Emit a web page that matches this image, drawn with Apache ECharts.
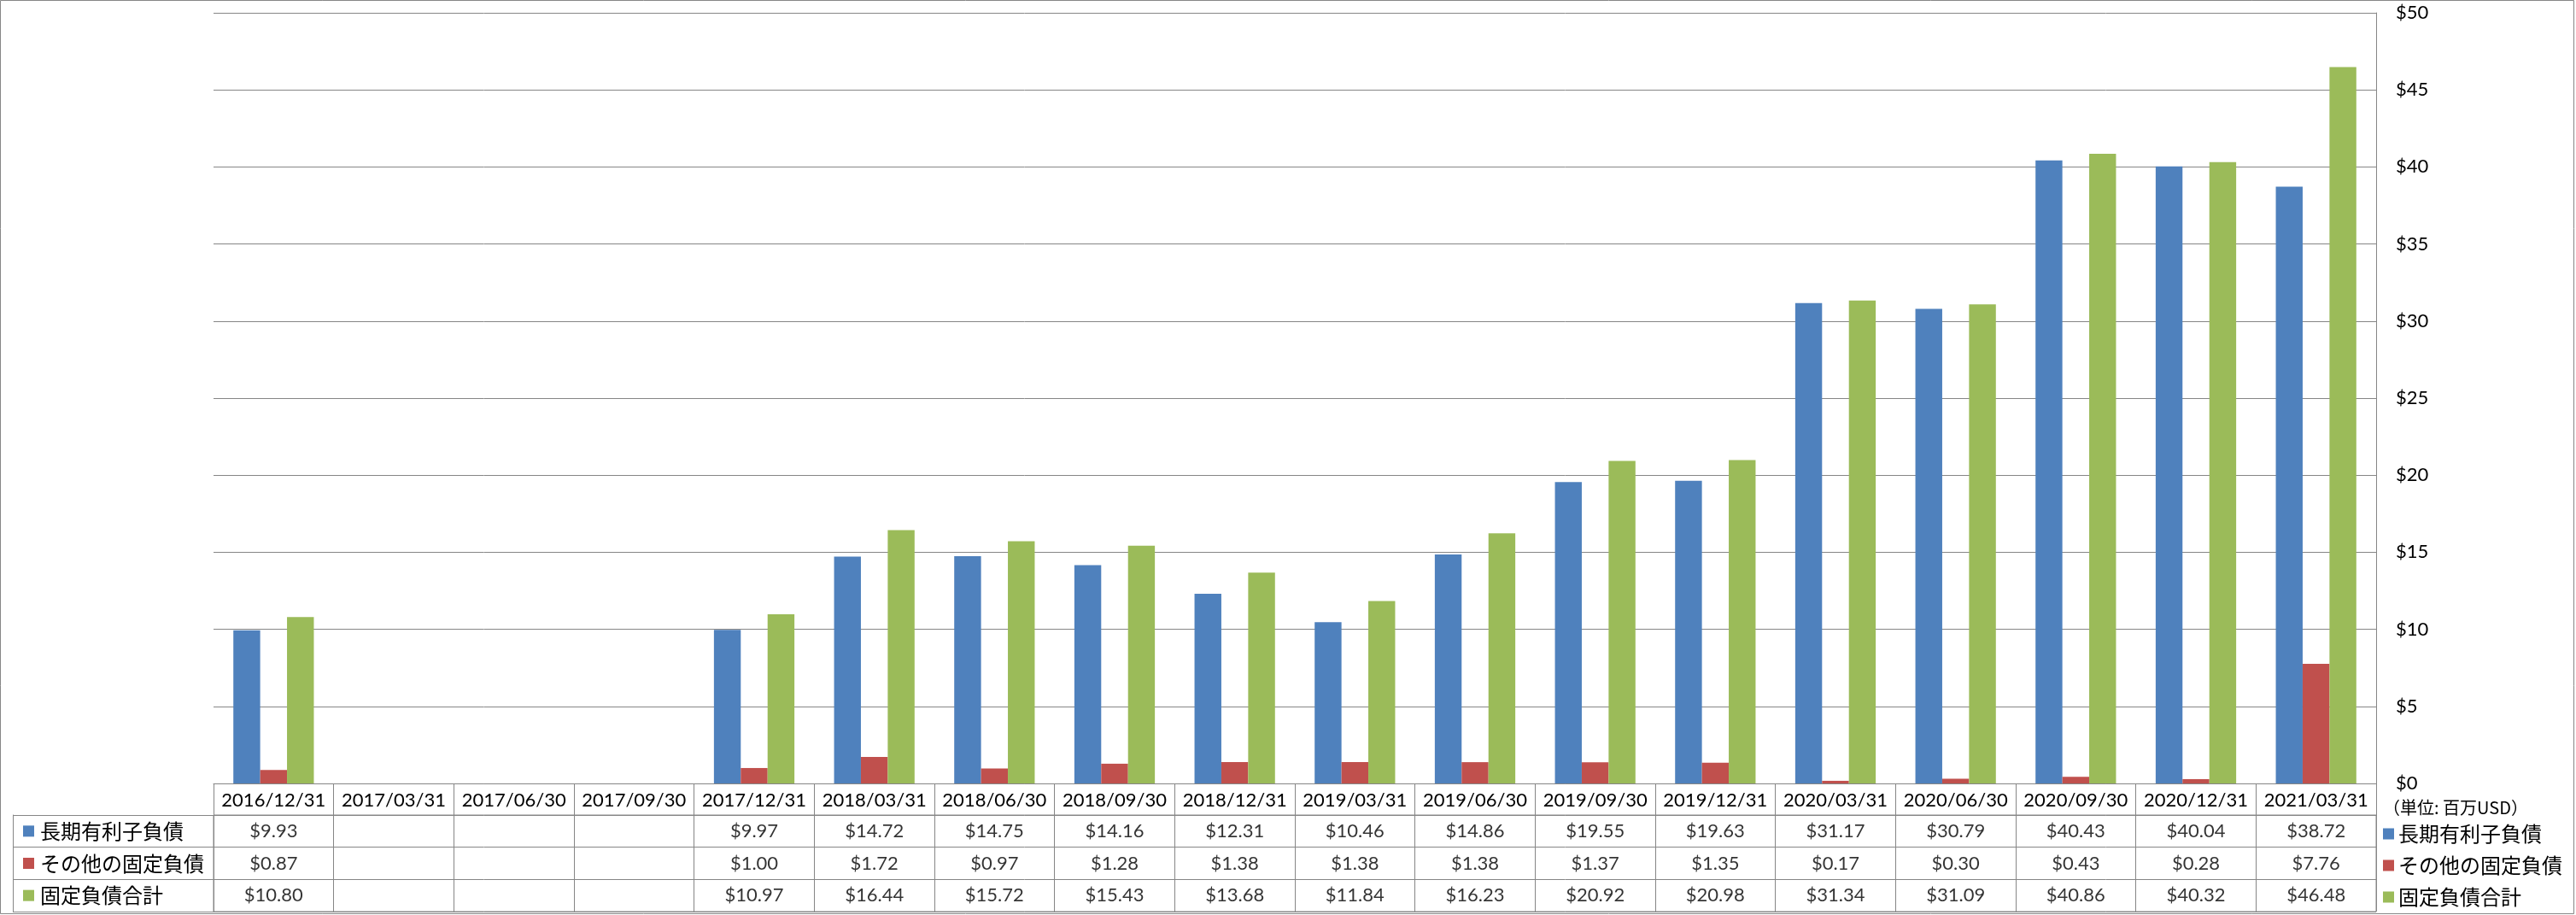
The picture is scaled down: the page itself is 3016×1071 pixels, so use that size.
<!DOCTYPE html>
<html><head><meta charset="utf-8">
<script src="https://cdn.jsdelivr.net/npm/echarts@6/dist/echarts.min.js"></script>
<style>html,body{margin:0;padding:0;background:#fff}#c{width:3016px;height:1071px}</style>
</head><body><div id="c"></div>
<script>
const categories = ['2016/12/31','2017/03/31','2017/06/30','2017/09/30','2017/12/31','2018/03/31','2018/06/30','2018/09/30','2018/12/31','2019/03/31','2019/06/30','2019/09/30','2019/12/31','2020/03/31','2020/06/30','2020/09/30','2020/12/31','2021/03/31'];
const seriesNames = ['長期有利子負債','その他の固定負債','固定負債合計'];
const longTermDebt = [9.93,null,null,null,9.97,14.72,14.75,14.16,12.31,10.46,14.86,19.55,19.63,31.17,30.79,40.43,40.04,38.72];
const otherFixed = [0.87,null,null,null,1.00,1.72,0.97,1.28,1.38,1.38,1.38,1.37,1.35,0.17,0.30,0.43,0.28,7.76];
const totalFixed = [10.80,null,null,null,10.97,16.44,15.72,15.43,13.68,11.84,16.23,20.92,20.98,31.34,31.09,40.86,40.32,46.48];
const unitLabel = '（単位: 百万USD）';

const colors = ['#4F81BD','#C0504D','#9BBB59'];
const gray = '#868686';
const numFont = 'Lato, "Noto Sans", sans-serif';
const cjkFont = '"Noto Sans CJK JP", sans-serif';
const allValues = [longTermDebt, otherFixed, totalFixed];

const tableData = [];
allValues.forEach((arr, r) => arr.forEach((v, i) => {
  if (v !== null) tableData.push([i, r, v]);
}));

const chart = echarts.init(document.getElementById('c'), null, {renderer:'canvas'});
chart.setOption({
  animation: false,
  color: colors,
  title: {
    text: unitLabel, left: 2790, top: 935, padding: 0,
    textStyle: {fontFamily: cjkFont, fontSize: 20, fontWeight: 'normal', color: '#000'}
  },
  legend: {
    data: seriesNames, orient: 'vertical', left: 2790, top: 964, height: 107, padding: 0,
    icon: 'rect', itemWidth: 13, itemHeight: 13, itemGap: 13,
    textStyle: {fontFamily: cjkFont, fontSize: 24, lineHeight: 24, color: '#000'}
  },
  graphic: [{
    type: 'rect', shape: {x: 0.5, y: 0.5, width: 3013, height: 1069},
    style: {fill: 'none', stroke: gray, lineWidth: 1}, silent: true
  }],
  grid: [
    {left: 250, right: 234, top: 15, bottom: 154},
    {left: 250, right: 234, top: 954, height: 113, show: true, borderColor: gray, borderWidth: 1}
  ],
  xAxis: [
    {type: 'category', gridIndex: 0, data: categories,
     axisLine: {show: true, lineStyle: {color: gray}},
     axisTick: {show: true, interval: 0, length: 37, lineStyle: {color: gray}},
     axisLabel: {interval: 0, margin: 9, fontFamily: numFont, fontSize: 22, color: '#000'}},
    {type: 'category', gridIndex: 1, data: categories,
     axisLine: {show: false}, axisTick: {show: false}, axisLabel: {show: false},
     splitLine: {show: true, interval: 0, lineStyle: {color: gray}}}
  ],
  yAxis: [
    {type: 'value', gridIndex: 0, position: 'right', min: 0, max: 50, interval: 5,
     axisLine: {show: true, lineStyle: {color: gray}}, axisTick: {show: false},
     splitLine: {show: true, lineStyle: {color: gray}},
     axisLabel: {margin: 23, fontFamily: numFont, fontSize: 22, color: '#000', formatter: v => '$' + v}},
    {type: 'category', gridIndex: 1, data: [0,1,2], inverse: true, position: 'left',
     axisLine: {show: true, lineStyle: {color: gray}},
     axisTick: {show: true, interval: 0, length: 235, lineStyle: {color: gray}},
     splitLine: {show: true, interval: 0, lineStyle: {color: gray}},
     axisLabel: {interval: 0, align: 'left', margin: 223,
       formatter: (v) => '{s' + v + '|}{t|' + seriesNames[v] + '}',
       rich: {
         s0: {backgroundColor: colors[0], width: 13, height: 13},
         s1: {backgroundColor: colors[1], width: 13, height: 13},
         s2: {backgroundColor: colors[2], width: 13, height: 13},
         t: {fontFamily: cjkFont, fontSize: 24, color: '#000', padding: [0,0,0,7]}
       }}},
    {type: 'category', gridIndex: 1, data: [0,1,2], inverse: true, position: 'left', offset: 235,
     axisLine: {show: true, lineStyle: {color: gray}}, axisTick: {show: false}, axisLabel: {show: false}}
  ],
  series: [
    ...seriesNames.map((n, k) => ({
      name: n, type: 'bar', xAxisIndex: 0, yAxisIndex: 0, data: allValues[k],
      barGap: '0%', barCategoryGap: '33%'
    })),
    {name: 'table', type: 'scatter', xAxisIndex: 1, yAxisIndex: 1, symbolSize: 0,
     data: tableData,
     label: {show: true, position: 'inside', fontFamily: numFont, fontSize: 22, color: '#000',
       formatter: p => '$' + p.value[2].toFixed(2)}}
  ]
});
</script></body></html>
